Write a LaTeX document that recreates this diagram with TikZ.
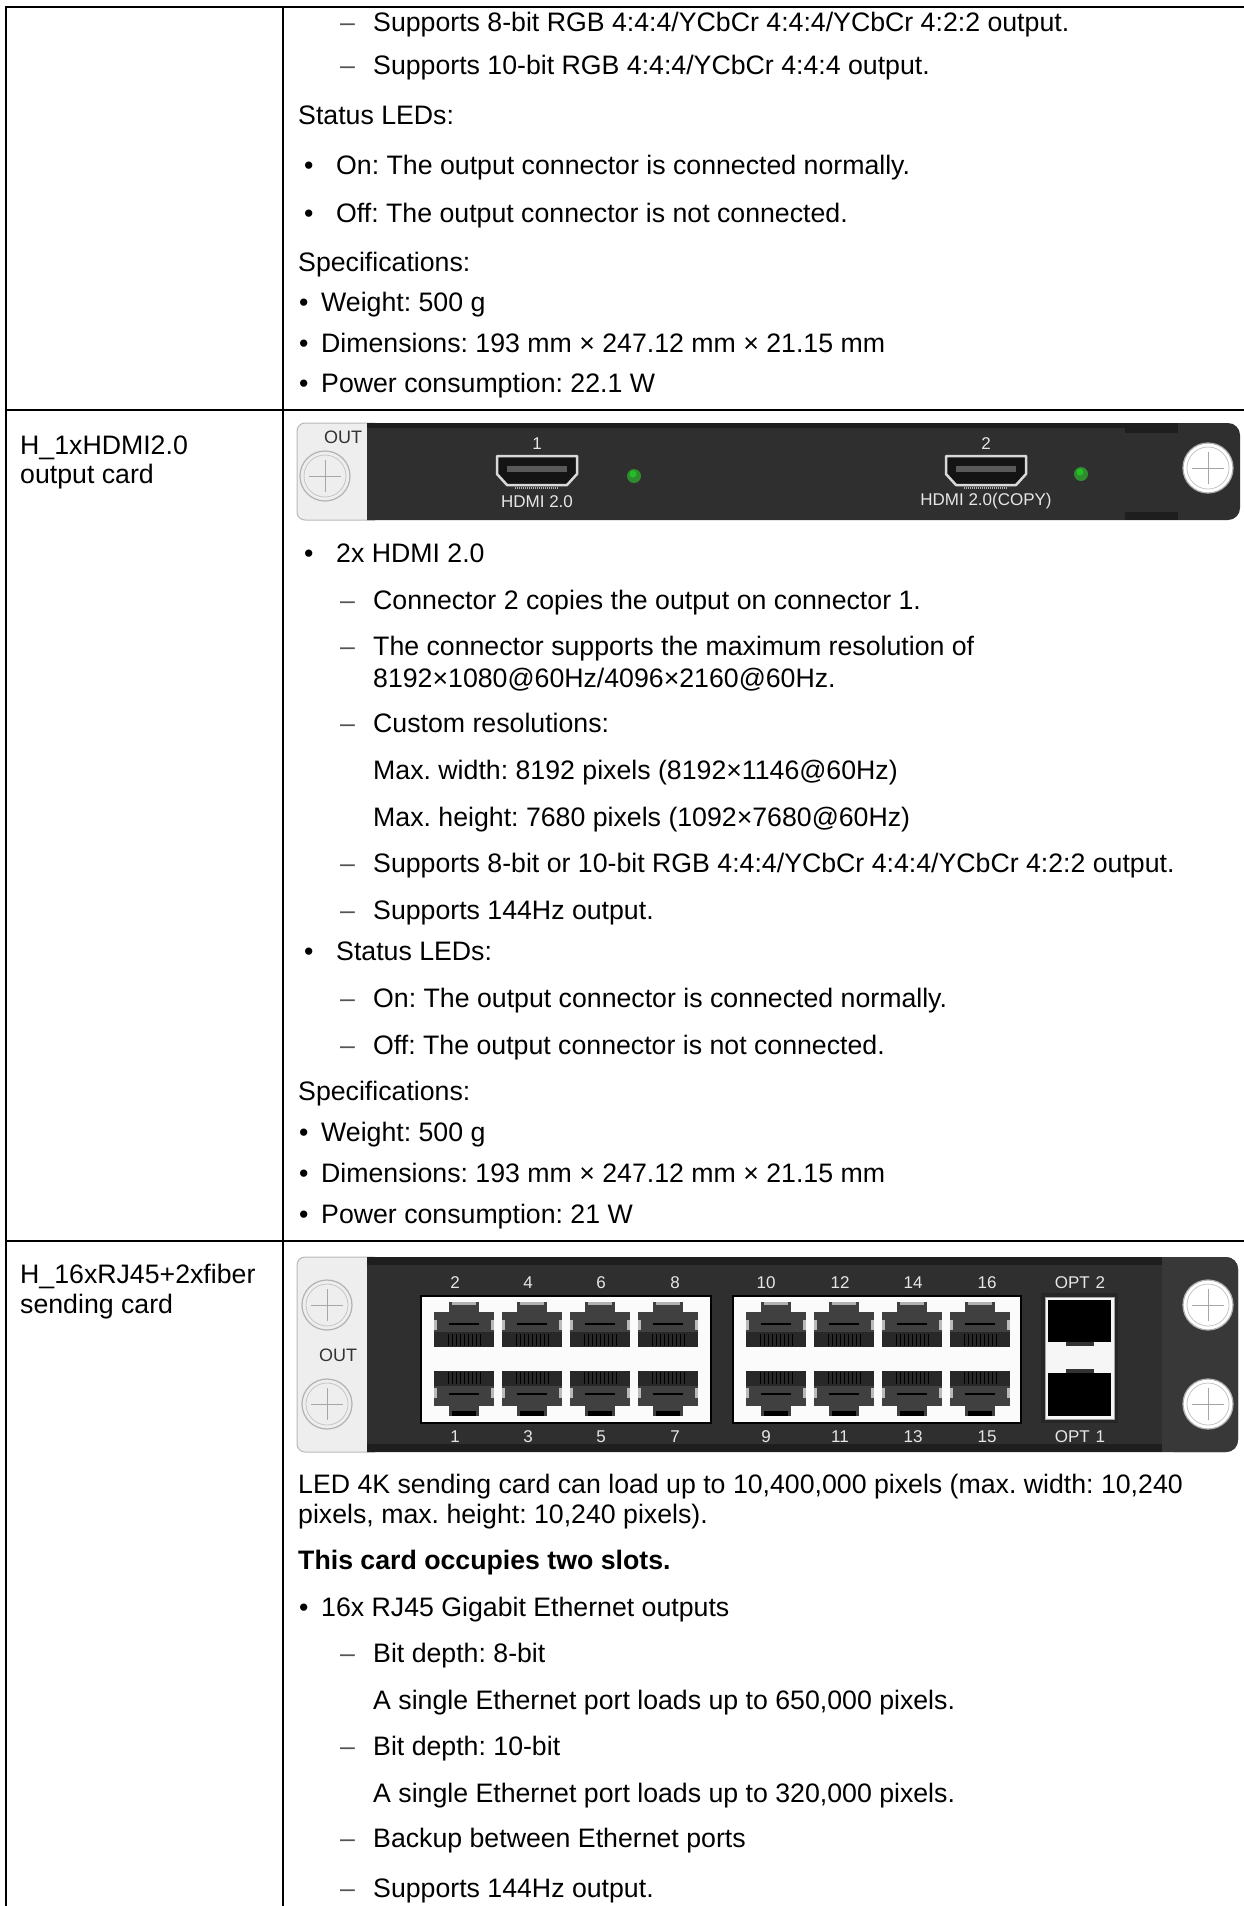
\documentclass[tikz,border=0pt]{standalone}
\usepackage{fontspec}
\setmainfont{Liberation Sans}
\frenchspacing
\newcommand\fs{\fontsize{26.7}{30}\selectfont}
\newcommand\fsmall{\fontsize{17}{17}\selectfont}
\definecolor{panelc}{HTML}{2F2F2F}
\definecolor{paneldk}{HTML}{1E1E1E}
\definecolor{panelrt}{HTML}{383838}
\definecolor{silverc}{HTML}{EEEEEE}
\definecolor{numc}{HTML}{E6E6E6}
\definecolor{dashc}{HTML}{555555}
\definecolor{ledc}{HTML}{2E8B2E}
\definecolor{rjc}{HTML}{404040}
\definecolor{rjd}{HTML}{282828}
\tikzset{
  txt/.style={anchor=base west, inner sep=0pt, font=\fs},
  dsh/.style={anchor=base west, inner sep=0pt, font=\fs, text=dashc},
  rule/.style={line width=2pt, black},
  num/.style={inner sep=0pt, font=\fsmall, text=numc},
  outlbl/.style={inner sep=0pt, font=\fontsize{18}{18}\selectfont, text=black!80},
}
\newcommand\screwat[3]{% x, y, fill
  \filldraw[fill=#3, draw=gray!60, line width=1.2pt] (#1,#2) circle[radius=25pt];
  \draw[gray!45, line width=0.8pt] (#1,#2) circle[radius=21pt];
  \draw[gray!70, line width=0.8pt] (#1-16,#2) -- (#1+16,#2) (#1,#2-16) -- (#1,#2+16);
}
\newcommand\hdmiport[2]{%
  \filldraw[fill=black!92, draw=gray!30, line width=2.5pt, line join=round]
    (#1-40,#2-15) -- (#1+40,#2-15) -- (#1+40,#2+3) -- (#1+30,#2+14) -- (#1-30,#2+14) -- (#1-40,#2+3) -- cycle;
  \fill[black!65] (#1-30,#2-5) rectangle (#1+30,#2+1);
  \draw[gray!60, dash pattern=on 1pt off 1pt, line width=1.5pt] (#1-22,#2+17) -- (#1+22,#2+17);
}
\newcommand\rjtop[1]{%
  \fill[rjc] (#1-30,1312) rectangle (#1+30,1332);
  \fill[rjd] (#1-30,1332) rectangle (#1+30,1347);
  \fill[rjc] (#1-15,1302) rectangle (#1+15,1312);
  \fill[gray!60] (#1-12,1302) rectangle (#1+12,1305);
  \draw[black, line width=2.5pt] (#1-15,1324) -- (#1+15,1324);
  \foreach \k in {-16,-12,...,16} \draw[black, line width=1pt] (#1+\k,1334) -- (#1+\k,1346);
  \fill[gray!55] (#1-30,1320) rectangle (#1-27,1330);
  \fill[gray!55] (#1+27,1320) rectangle (#1+30,1330);
}
\newcommand\rjbot[1]{%
  \fill[rjd] (#1-30,1371) rectangle (#1+30,1386);
  \fill[rjc] (#1-30,1386) rectangle (#1+30,1406);
  \fill[rjc] (#1-15,1406) rectangle (#1+15,1416);
  \fill[black] (#1-12,1411) rectangle (#1+12,1416);
  \draw[black, line width=2.5pt] (#1-15,1394) -- (#1+15,1394);
  \foreach \k in {-16,-12,...,16} \draw[black, line width=1pt] (#1+\k,1372) -- (#1+\k,1384);
  \fill[gray!55] (#1-30,1388) rectangle (#1-27,1398);
  \fill[gray!55] (#1+27,1388) rectangle (#1+30,1398);
}
\begin{document}
\begin{tikzpicture}[x=1pt,y=-1pt]
\useasboundingbox (0,0) rectangle (1244,1906);
\fill[white] (0,0) rectangle (1244,1906);

% ---------- table rules ----------
\draw[rule] (5,7) -- (1244,7);
\draw[rule] (6,6) -- (6,1906);
\draw[rule] (283,6) -- (283,1906);
\draw[rule] (5,410) -- (1244,410);
\draw[rule] (5,1241) -- (1244,1241);

% ---------- row 1 (continued) ----------
\node[dsh] (r1d1) at (340,31) {–};
\node[txt] (r1a) at (373,31) {Supports 8-bit RGB 4:4:4/YCbCr 4:4:4/YCbCr 4:2:2 output.};
\node[dsh] (r1d2) at (340,74) {–};
\node[txt] (r1b) at (373,74) {Supports 10-bit RGB 4:4:4/YCbCr 4:4:4 output.};
\node[txt] (r1c) at (298,124) {Status LEDs:};
\node[txt] (r1b1) at (304,174) {•};
\node[txt] (r1d) at (336,174) {On: The output connector is connected normally.};
\node[txt] (r1b2) at (304,222) {•};
\node[txt] (r1e) at (336,222) {Off: The output connector is not connected.};
\node[txt] (r1f) at (298,271) {Specifications:};
\node[txt] (r1b3) at (299,311) {•};
\node[txt] (r1g) at (321,311) {Weight: 500 g};
\node[txt] (r1b4) at (299,352) {•};
\node[txt] (r1h) at (321,352) {Dimensions: 193 mm × 247.12 mm × 21.15 mm};
\node[txt] (r1b5) at (299,392) {•};
\node[txt] (r1i) at (321,392) {Power consumption: 22.1 W};

% ---------- row 2 ----------
\node[txt] (l2a) at (20,454) {H\_1xHDMI2.0};
\node[txt] (l2b) at (20,483) {output card};

% HDMI panel
\filldraw[fill=silverc, draw=gray!55, line width=1pt, rounded corners=8pt]
  (375,423) -- (297,423) -- (297,520) -- (375,520);
\fill[panelc] (367,423) [rounded corners=12pt] -- (1240,423) -- (1240,520) [sharp corners] -- (367,520) -- cycle;
\fill[paneldk] (367,423) rectangle (1170,428);
\fill[paneldk] (1125,423) rectangle (1178,433);
\fill[paneldk] (1125,512) rectangle (1178,520);
\node[outlbl] (h_out) at (343,437) {OUT};
\screwat{325}{476}{silverc}
\screwat{1208}{468}{white}
\hdmiport{537}{471}
\hdmiport{986}{471}
\node[num] (h_n1) at (537,444) {1};
\node[num] (h_n2) at (986,444) {2};
\node[num] (h_l1) at (537,502) {HDMI 2.0};
\node[num] (h_l2) at (986,501) {HDMI 2.0(COPY)};
\fill[ledc] (634,476) circle[radius=7pt];
\fill[green!70!black!85] (633,474) circle[radius=3.5pt];
\fill[ledc] (1081,474) circle[radius=7pt];
\fill[green!70!black!85] (1080,472) circle[radius=3.5pt];

\node[txt] (r2b0) at (304,562) {•};
\node[txt] (r2a) at (336,562) {2x HDMI 2.0};
\node[dsh] (r2d1) at (340,609) {–};
\node[txt] (r2b) at (373,609) {Connector 2 copies the output on connector 1.};
\node[dsh] (r2d2) at (340,655) {–};
\node[txt] (r2c) at (373,655) {The connector supports the maximum resolution of};
\node[txt] (r2c2) at (373,687) {8192×1080@60Hz/4096×2160@60Hz.};
\node[dsh] (r2d3) at (340,732) {–};
\node[txt] (r2d) at (373,732) {Custom resolutions:};
\node[txt] (r2e) at (373,779) {Max. width: 8192 pixels (8192×1146@60Hz)};
\node[txt] (r2f) at (373,826) {Max. height: 7680 pixels (1092×7680@60Hz)};
\node[dsh] (r2d4) at (340,872) {–};
\node[txt] (r2g) at (373,872) {Supports 8-bit or 10-bit RGB 4:4:4/YCbCr 4:4:4/YCbCr 4:2:2 output.};
\node[dsh] (r2d5) at (340,919) {–};
\node[txt] (r2h) at (373,919) {Supports 144Hz output.};
\node[txt] (r2b1) at (304,960) {•};
\node[txt] (r2i) at (336,960) {Status LEDs:};
\node[dsh] (r2d6) at (340,1007) {–};
\node[txt] (r2j) at (373,1007) {On: The output connector is connected normally.};
\node[dsh] (r2d7) at (340,1054) {–};
\node[txt] (r2k) at (373,1054) {Off: The output connector is not connected.};
\node[txt] (r2l) at (298,1100) {Specifications:};
\node[txt] (r2b2) at (299,1141) {•};
\node[txt] (r2m) at (321,1141) {Weight: 500 g};
\node[txt] (r2b3) at (299,1182) {•};
\node[txt] (r2n) at (321,1182) {Dimensions: 193 mm × 247.12 mm × 21.15 mm};
\node[txt] (r2b4) at (299,1223) {•};
\node[txt] (r2o) at (321,1223) {Power consumption: 21 W};

% ---------- row 3 ----------
\node[txt] (l3a) at (20,1283) {H\_16xRJ45+2xfiber};
\node[txt] (l3b) at (20,1313) {sending card};

% RJ45 panel
\filldraw[fill=silverc, draw=gray!55, line width=1pt, rounded corners=8pt]
  (375,1257) -- (297,1257) -- (297,1452) -- (375,1452);
\fill[panelc] (367,1257) [rounded corners=12pt] -- (1238,1257) -- (1238,1452) [sharp corners] -- (367,1452) -- cycle;
\fill[panelrt, rounded corners=12pt] (1162,1257) -- (1238,1257) -- (1238,1452) -- (1162,1452) [sharp corners] -- cycle;
\fill[panelrt] (1162,1257) rectangle (1180,1452);
\fill[paneldk] (367,1257) rectangle (1162,1265);
\fill[paneldk] (367,1444) rectangle (1162,1452);
\screwat{327}{1305}{silverc}
\screwat{327}{1404}{silverc}
\node[outlbl] (s_out) at (338,1355) {OUT};
\screwat{1208}{1305}{white}
\screwat{1208}{1404}{white}

\filldraw[fill=white!97!gray, draw=black, line width=1.5pt] (421,1296) rectangle (711,1423);
\filldraw[fill=white!97!gray, draw=black, line width=1.5pt] (733,1296) rectangle (1021,1423);
\foreach \c in {464,532,600,668,776,844,912,980} {\rjtop{\c}\rjbot{\c}}

\node[num] (p2) at (455,1283) {2};
\node[num] (p4) at (528,1283) {4};
\node[num] (p6) at (601,1283) {6};
\node[num] (p8) at (675,1283) {8};
\node[num] (p10) at (766,1283) {10};
\node[num] (p12) at (840,1283) {12};
\node[num] (p14) at (913,1283) {14};
\node[num] (p16) at (987,1283) {16};
\node[num] (p1) at (455,1437) {1};
\node[num] (p3) at (528,1437) {3};
\node[num] (p5) at (601,1437) {5};
\node[num] (p7) at (675,1437) {7};
\node[num] (p9) at (766,1437) {9};
\node[num] (p11) at (840,1437) {11};
\node[num] (p13) at (913,1437) {13};
\node[num] (p15) at (987,1437) {15};

% SFP cage
\fill[black!85] (1041,1293) rectangle (1118,1423);
\filldraw[fill=white!93!gray, draw=gray!70, line width=1pt] (1045,1297) rectangle (1114,1419);
\fill[black] (1048,1300) rectangle (1111,1342);
\fill[black] (1048,1373) rectangle (1111,1416);
\fill[black!80] (1066,1342) rectangle (1094,1346);
\fill[black!80] (1066,1369) rectangle (1094,1373);
\node[num] (o2) at (1080,1283) {OPT\hspace{6pt}2};
\node[num] (o1) at (1080,1437) {OPT\hspace{6pt}1};

\node[txt] (r3a) at (298,1493) {LED 4K sending card can load up to 10,400,000 pixels (max. width: 10,240};
\node[txt] (r3a2) at (298,1523) {pixels, max. height: 10,240 pixels).};
\node[txt, font=\fs\bfseries] (r3b) at (298,1569) {This card occupies two slots.};
\node[txt] (r3b0) at (299,1616) {•};
\node[txt] (r3c) at (321,1616) {16x RJ45 Gigabit Ethernet outputs};
\node[dsh] (r3d1) at (340,1662) {–};
\node[txt] (r3d) at (373,1662) {Bit depth: 8-bit};
\node[txt] (r3e) at (373,1709) {A single Ethernet port loads up to 650,000 pixels.};
\node[dsh] (r3d2) at (340,1755) {–};
\node[txt] (r3f) at (373,1755) {Bit depth: 10-bit};
\node[txt] (r3g) at (373,1802) {A single Ethernet port loads up to 320,000 pixels.};
\node[dsh] (r3d3) at (340,1847) {–};
\node[txt] (r3h) at (373,1847) {Backup between Ethernet ports};
\node[dsh] (r3d4) at (340,1897) {–};
\node[txt] (r3i) at (373,1897) {Supports 144Hz output.};
\end{tikzpicture}
\end{document}
